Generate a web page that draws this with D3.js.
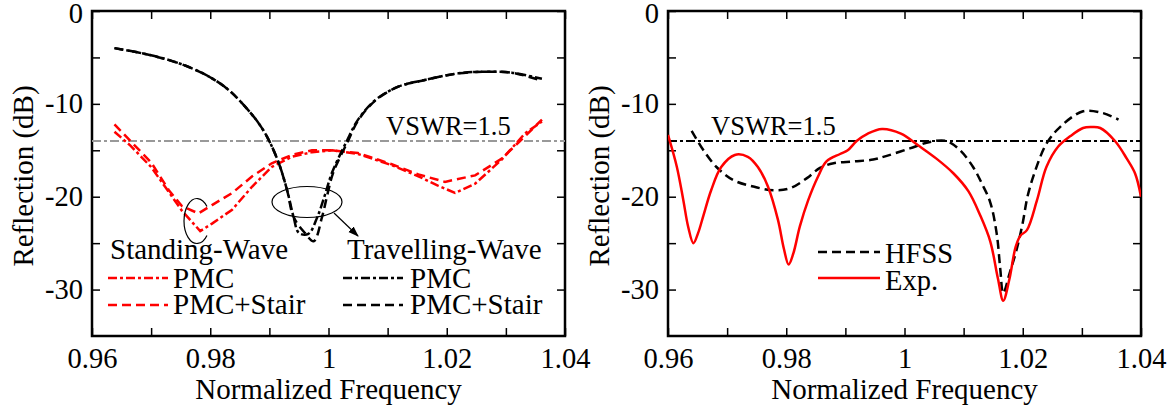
<!DOCTYPE html>
<html>
<head>
<meta charset="utf-8">
<script src="https://d3js.org/d3.v7.min.js"></script>
<style>
  body { margin: 0; background: #fff; }
  text { font-family: "Liberation Serif", "Times New Roman", serif; fill: #000; }
</style>
</head>
<body>
<svg id="chart" width="1176" height="410"></svg>
<script>
// ---- data ----
const xMajor = [0.96, 0.98, 1, 1.02, 1.04];
const xMinor = [0.97, 0.99, 1.01, 1.03];
const yMajor = [0, -10, -20, -30];
const yMinor = [-5, -15, -25];
const vswrDb = -14;

// left: travelling-wave
const travPmcF = [0.9638,0.9685,0.9730,0.9769,0.9803,0.9831,0.9859,0.9882,0.9899,0.9916,0.9930,0.9941,0.9950,0.9966,0.9981,0.9994,1.0006,1.0031,1.0050,1.0079,1.0118,1.0163,1.0220,1.0276,1.0310,1.0361];
const travPmcDb = [-4.0,-4.56,-5.28,-6.17,-7.25,-8.5,-10.3,-12.1,-13.9,-16.4,-19.3,-22.2,-23.9,-24.0,-22.2,-19.8,-17.4,-14.0,-11.7,-9.6,-8.15,-7.43,-6.71,-6.53,-6.64,-7.3];
const travStairF = [0.9638,0.9685,0.9730,0.9769,0.9803,0.9831,0.9859,0.9882,0.9899,0.9916,0.9930,0.9941,0.9960,0.9975,0.9989,0.9998,1.0008,1.0033,1.0051,1.0080,1.0118,1.0163,1.0220,1.0276,1.0310,1.0361];
const travStairDb = [-4.0,-4.56,-5.28,-6.17,-7.25,-8.5,-10.3,-12.1,-13.9,-16.4,-19.3,-22.2,-23.9,-24.8,-22.2,-19.8,-17.4,-14.0,-11.7,-9.6,-8.15,-7.43,-6.71,-6.53,-6.64,-7.5];

// left: standing-wave
const swPmcF = [0.9638,0.9665,0.9700,0.9730,0.9752,0.9783,0.9803,0.9837,0.9871,0.9904,0.9938,0.9972,1.0006,1.0050,1.0107,1.0152,1.0185,1.0214,1.0248,1.0293,1.0332,1.0361];
const swPmcDb = [-13.0,-14.5,-16.8,-19.5,-21.5,-23.7,-22.9,-21.4,-18.9,-16.8,-15.7,-15.2,-15.0,-15.4,-16.6,-17.8,-18.8,-19.6,-18.6,-16.0,-13.2,-11.9];
const swStairF = [0.9638,0.9665,0.9700,0.9730,0.9752,0.9780,0.9803,0.9837,0.9871,0.9904,0.9938,0.9972,1.0006,1.0050,1.0107,1.0152,1.0197,1.0248,1.0293,1.0332,1.0361];
const swStairDb = [-12.2,-14.0,-16.3,-19.3,-21.0,-21.8,-20.9,-19.6,-17.8,-16.4,-15.5,-15.0,-15.0,-15.3,-16.5,-17.6,-18.4,-17.7,-15.9,-13.5,-11.7];

// right: measurement and HFSS
const expF = [0.9600,0.9615,0.9626,0.9634,0.9643,0.9651,0.9660,0.9673,0.9690,0.9713,0.9735,0.9752,0.9769,0.9786,0.9796,0.9804,0.9812,0.9823,0.9837,0.9854,0.9868,0.9891,0.9904,0.9919,0.9938,0.9962,0.9994,1.0026,1.0054,1.0083,1.0108,1.0128,1.0145,1.0158,1.0167,1.0177,1.0188,1.0196,1.0207,1.0224,1.0240,1.0260,1.0280,1.0302,1.0316,1.0331,1.0356,1.0376,1.0390,1.0400];
const expDb = [-13.35,-16.8,-20.4,-23.2,-25.0,-23.9,-22.0,-19.3,-16.8,-15.5,-15.7,-16.8,-18.9,-22.5,-25.6,-27.3,-26.1,-23.2,-20.4,-17.8,-16.2,-15.4,-15.0,-14.0,-13.2,-12.7,-13.2,-14.6,-15.9,-17.5,-19.4,-22.0,-24.8,-28.8,-31.2,-29.0,-25.4,-24.2,-23.6,-20.4,-16.8,-14.6,-13.5,-12.6,-12.5,-12.6,-14.0,-15.9,-17.5,-20.0];
const hfssF = [0.9640,0.9660,0.9682,0.9710,0.9744,0.9778,0.9806,0.9835,0.9857,0.9880,0.9913,0.9947,0.9970,1.0009,1.0043,1.0071,1.0094,1.0116,1.0131,1.0145,1.0156,1.0162,1.0167,1.0178,1.0190,1.0200,1.0208,1.0220,1.0240,1.0263,1.0302,1.0336,1.0362];
const hfssDb = [-12.9,-15.0,-16.8,-18.2,-18.9,-19.3,-19.1,-18.0,-16.9,-16.4,-16.2,-16.0,-15.6,-14.8,-14.1,-14.0,-15.0,-16.8,-18.6,-20.6,-24.0,-27.8,-30.4,-28.2,-25.6,-22.8,-20.0,-17.4,-14.3,-12.5,-10.8,-11.0,-11.7];

const svg = d3.select('#chart');
const W = 473, H = 325;
const FS = 29;

svg.append('defs').append('marker')
  .attr('id', 'arrow').attr('viewBox', '0 0 10 10')
  .attr('refX', 9).attr('refY', 5)
  .attr('markerWidth', 9).attr('markerHeight', 9)
  .attr('orient', 'auto')
  .append('path').attr('d', 'M0,1.5L10,5L0,8.5Z').attr('fill', '#000');

function zip(f, db) { return f.map((v, i) => [v, db[i]]); }

function panel(left, top) {
  let g = svg.append('g').attr('transform', 'translate(' + left + ',' + top + ')');
  let x = d3.scaleLinear().domain([0.96, 1.04]).range([0, W]);
  let y = d3.scaleLinear().domain([-35, 0]).range([H, 0]);
  let allX = xMajor.concat(xMinor), allY = yMajor.concat(yMinor);
  let fmtX = d => xMajor.includes(d) ? String(d) : '';
  let fmtY = d => yMajor.includes(d) ? String(d) : '';

  let axes = [
    g.append('g').attr('transform', 'translate(0,' + H + ')')
      .call(d3.axisBottom(x).tickValues(allX).tickFormat(fmtX).tickSize(-8).tickPadding(12)),
    g.append('g')
      .call(d3.axisTop(x).tickValues(allX).tickFormat('').tickSize(-8)),
    g.append('g')
      .call(d3.axisLeft(y).tickValues(allY).tickFormat(fmtY).tickSize(-8).tickPadding(9)),
    g.append('g').attr('transform', 'translate(' + W + ',0)')
      .call(d3.axisRight(y).tickValues(allY).tickFormat('').tickSize(-8))
  ];
  axes.forEach(a => {
    a.select('.domain').remove();
    a.selectAll('line').attr('stroke', '#000').attr('stroke-width', 1.5);
    a.selectAll('text').attr('font-size', 28.5);
  });
  // keep the top "0" label inside the picture
  axes[2].selectAll('.tick text').filter(d => d === 0).attr('dy', '0.4em');

  g.append('rect').attr('width', W).attr('height', H)
    .attr('fill', 'none').attr('stroke', '#000').attr('stroke-width', 2.5);

  g.append('text').attr('x', W / 2).attr('y', 399 - top)
    .attr('text-anchor', 'middle').attr('font-size', FS)
    .text('Normalized Frequency');
  g.append('text')
    .attr('transform', 'translate(' + (-59) + ',' + (165) + ') rotate(-90)')
    .attr('text-anchor', 'middle').attr('font-size', FS)
    .text('Reflection (dB)');

  let clipId = 'clip' + left;
  g.append('clipPath').attr('id', clipId).append('rect').attr('width', W).attr('height', H);
  let plot = g.append('g').attr('clip-path', 'url(#' + clipId + ')');
  return {g: g, plot: plot, x: x, y: y};
}

function curve(p, data, color, dash, kind) {
  let line = d3.line().x(d => p.x(d[0])).y(d => p.y(d[1]))
    .curve(kind || d3.curveLinear);
  p.plot.append('path').datum(data)
    .attr('d', line).attr('fill', 'none')
    .attr('stroke', color).attr('stroke-width', 2.5)
    .attr('stroke-dasharray', dash);
}

function legendLine(g, x1, x2, yy, color, dash) {
  g.append('line').attr('x1', x1).attr('x2', x2).attr('y1', yy).attr('y2', yy)
    .attr('stroke', color).attr('stroke-width', 2.5).attr('stroke-dasharray', dash);
}
function label(g, xx, yy, txt, fs) {
  g.append('text').attr('x', xx).attr('y', yy).attr('font-size', fs || FS).text(txt);
}

const DASHDOT = '9,3,3,3';
const DASH = '9,5';

// ---------- left panel ----------
let L = panel(92, 11);
L.plot.append('line').attr('x1', 0).attr('x2', W)
  .attr('y1', L.y(vswrDb)).attr('y2', L.y(vswrDb))
  .attr('stroke', '#999').attr('stroke-width', 2).attr('stroke-dasharray', DASHDOT);
curve(L, zip(swPmcF, swPmcDb), '#f00', DASHDOT);
curve(L, zip(swStairF, swStairDb), '#f00', DASH);
curve(L, zip(travPmcF, travPmcDb), '#000', DASHDOT, d3.curveCatmullRom);
curve(L, zip(travStairF, travStairDb), '#000', DASH, d3.curveCatmullRom);
label(L.g, 294, 124, 'VSWR=1.5', 26.5);

// annotations
let lg = L.g;
let cx = 105, cy = 210, rx = 13, ry = 22.5;
let a0 = -40 * Math.PI / 180, a1 = 40 * Math.PI / 180;
lg.append('path')
  .attr('d', 'M' + (cx + rx * Math.cos(a0)) + ',' + (cy + ry * Math.sin(a0)) +
    'A' + rx + ',' + ry + ' 0 1 0 ' + (cx + rx * Math.cos(a1)) + ',' + (cy + ry * Math.sin(a1)))
  .attr('fill', 'none').attr('stroke', '#000').attr('stroke-width', 1.2);
lg.append('ellipse').attr('cx', 215).attr('cy', 191).attr('rx', 35).attr('ry', 15.5)
  .attr('fill', 'none').attr('stroke', '#000').attr('stroke-width', 1.2);
lg.append('line').attr('x1', 242).attr('y1', 202).attr('x2', 266).attr('y2', 225)
  .attr('stroke', '#000').attr('stroke-width', 1.2).attr('marker-end', 'url(#arrow)');

label(lg, 18, 248, 'Standing-Wave');
legendLine(lg, 16, 76, 267, '#f00', DASHDOT);
label(lg, 81, 277, 'PMC');
legendLine(lg, 16, 76, 294, '#f00', DASH);
label(lg, 81, 303, 'PMC+Stair');
label(lg, 255, 248, 'Travelling-Wave');
legendLine(lg, 251, 311, 267, '#000', DASHDOT);
label(lg, 318, 277, 'PMC');
legendLine(lg, 251, 311, 294, '#000', DASH);
label(lg, 318, 303, 'PMC+Stair');

// ---------- right panel ----------
let R = panel(668, 11);
R.plot.append('line').attr('x1', 0).attr('x2', W)
  .attr('y1', R.y(vswrDb)).attr('y2', R.y(vswrDb))
  .attr('stroke', '#000').attr('stroke-width', 2).attr('stroke-dasharray', DASHDOT);
curve(R, zip(hfssF, hfssDb), '#000', DASH, d3.curveCatmullRom);
curve(R, zip(expF, expDb), '#f00', null, d3.curveCatmullRom);
label(R.g, 43, 124, 'VSWR=1.5', 26.5);
legendLine(R.g, 150, 212, 241, '#000', DASH);
label(R.g, 217, 252, 'HFSS', 28.5);
legendLine(R.g, 150, 212, 267, '#f00', null);
label(R.g, 217, 279, 'Exp.', 28.5);
</script>
</body>
</html>
